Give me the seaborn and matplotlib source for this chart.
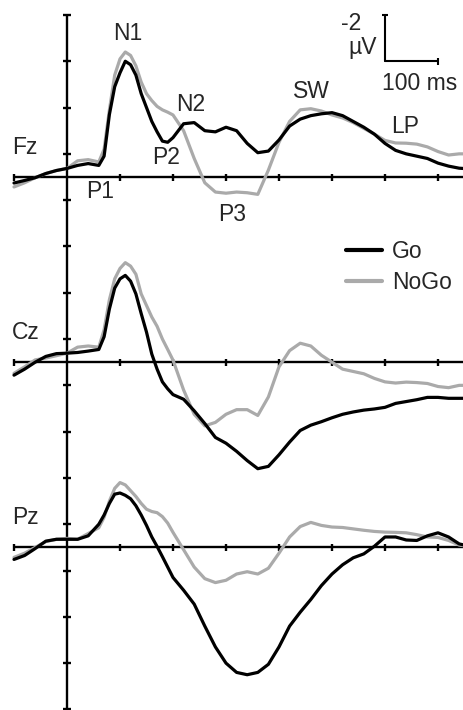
import numpy as np
import pandas as pd
import matplotlib
matplotlib.use("Agg")
import matplotlib.pyplot as plt
import seaborn as sns
from matplotlib.lines import Line2D

# ---------------- data (µV, negative plotted up) ----------------
times = [-100, -80, -60, -40, -20, 0, 20, 40, 60,
         70, 80, 90, 100, 110, 120, 130, 140, 150, 160, 170, 180, 190, 200,
         220, 240, 260, 280, 300, 320, 340, 360, 380, 400, 420, 440, 460, 480,
         500, 520, 540, 560, 580, 600, 620, 640, 660, 680, 700, 720, 740, 760]

fz_go = [0.26, 0.15, 0.03, -0.15, -0.28, -0.37, -0.5, -0.58, -0.5,
         -0.9, -2.7, -3.9, -4.5, -5.0, -4.85, -4.4, -3.6, -3.0, -2.4, -1.95, -1.55, -1.5, -1.7,
         -2.3, -2.35, -2.0, -1.95, -2.15, -2.0, -1.45, -1.05, -1.12, -1.6, -2.2, -2.5, -2.65, -2.73,
         -2.78, -2.65, -2.4, -2.15, -1.85, -1.45, -1.15, -1.0, -0.9, -0.8, -0.6, -0.47, -0.38, -0.35]
fz_nogo = [0.43, 0.25, 0.03, -0.15, -0.28, -0.37, -0.7, -0.75, -0.65,
           -1.2, -2.9, -4.4, -5.1, -5.4, -5.25, -4.8, -4.1, -3.6, -3.3, -3.05, -2.9, -2.8, -2.68,
           -2.0, -0.8, 0.25, 0.65, 0.7, 0.65, 0.68, 0.75, -0.3, -1.5, -2.4, -2.9, -2.95, -2.85,
           -2.68, -2.55, -2.35, -2.1, -1.85, -1.58, -1.47, -1.46, -1.42, -1.3, -1.1, -0.95, -1.0, -1.0]
cz_go = [0.56, 0.3, 0.0, -0.25, -0.37, -0.39, -0.42, -0.48, -0.55,
         -1.1, -2.3, -3.2, -3.6, -3.75, -3.5, -2.95, -2.1, -1.3, -0.35, 0.3, 0.85, 1.15, 1.4,
         1.6, 2.1, 2.65, 3.25, 3.5, 3.85, 4.25, 4.6, 4.5, 4.0, 3.45, 2.95, 2.72, 2.57,
         2.4, 2.25, 2.15, 2.07, 2.02, 1.95, 1.78, 1.7, 1.62, 1.52, 1.52, 1.56, 1.56, 1.56]
cz_nogo = [0.48, 0.2, -0.1, -0.18, -0.28, -0.39, -0.65, -0.7, -0.65,
           -1.4, -2.7, -3.6, -4.05, -4.3, -4.15, -3.8, -2.95, -2.45, -1.95, -1.55, -1.0, -0.55, -0.09,
           1.2, 2.25, 2.75, 2.6, 2.25, 2.05, 2.05, 2.3, 1.5, 0.2, -0.5, -0.82, -0.7, -0.3,
           0.0, 0.3, 0.4, 0.5, 0.7, 0.85, 0.9, 0.86, 0.88, 0.92, 1.05, 1.1, 1.0, 1.0]
pz_go = [0.52, 0.35, 0.05, -0.27, -0.35, -0.35, -0.35, -0.5, -1.0,
         -1.4, -1.9, -2.3, -2.35, -2.25, -2.1, -1.8, -1.4, -0.95, -0.45, -0.04, 0.4, 0.85, 1.3,
         1.85, 2.45, 3.4, 4.3, 5.0, 5.4, 5.5, 5.4, 5.05, 4.3, 3.4, 2.8, 2.25, 1.65,
         1.15, 0.75, 0.45, 0.28, -0.05, -0.45, -0.45, -0.32, -0.3, -0.5, -0.63, -0.45, -0.15, -0.05]
pz_nogo = [0.43, 0.25, 0.0, -0.25, -0.35, -0.39, -0.35, -0.6, -0.85,
           -1.3, -2.0, -2.55, -2.8, -2.7, -2.45, -2.2, -1.9, -1.65, -1.55, -1.5, -1.33, -1.05, -0.65,
           0.1, 0.85, 1.35, 1.52, 1.42, 1.15, 1.05, 1.15, 0.9, 0.25, -0.45, -0.9, -1.08, -0.95,
           -0.88, -0.86, -0.8, -0.74, -0.69, -0.66, -0.65, -0.63, -0.55, -0.45, -0.43, -0.3, -0.1, -0.04]

channels = ["Fz", "Cz", "Pz"]
conditions = ["Go", "NoGo"]
x_ticks_ms = [-100, 100, 200, 300, 400, 500, 600, 700]
component_labels = ["N1", "P1", "P2", "N2", "P3", "SW", "LP"]

# ---------------- layout constants ----------------
W, H = 463, 710
X0_PX, PX_PER_MS = 67, 0.53
Y0_PX, PX_PER_UV = 177, 23.15
OFFSET_STEP = 8.0  # µV between channel baselines
offsets = {ch: i * OFFSET_STEP for i, ch in enumerate(channels)}
colors = {"Go": "black", "NoGo": "#aaaaaa"}

series = {("Fz", "Go"): fz_go, ("Fz", "NoGo"): fz_nogo,
          ("Cz", "Go"): cz_go, ("Cz", "NoGo"): cz_nogo,
          ("Pz", "Go"): pz_go, ("Pz", "NoGo"): pz_nogo}
rows = []
for (ch, cond), vals in series.items():
    for t, v in zip(times, vals):
        rows.append({"time": t, "uv": v, "channel": ch, "condition": cond,
                     "y": v + offsets[ch]})
df = pd.DataFrame(rows)

sns.set_theme(style="white")
plt.rcParams['font.family'] = ['Liberation Sans', 'DejaVu Sans']
FS = 16.5

fig = plt.figure(figsize=(W / 100, H / 100), dpi=100)
ax = fig.add_axes([0, 0, 1, 1])
xmin, xmax = -X0_PX / PX_PER_MS, (W - X0_PX) / PX_PER_MS
ytop, ybot = -Y0_PX / PX_PER_UV, (H - Y0_PX) / PX_PER_UV

# axes
axis_lw = 1.7
tick_h = 3.5 / PX_PER_UV
tick_w = 4.0 / PX_PER_MS
ax.vlines(0, -7, ybot, color="black", lw=axis_lw, zorder=3)
for yt in np.arange(-7, ybot, 2):
    ax.hlines(yt, -tick_w, tick_w, color="black", lw=axis_lw, zorder=3)
for ch in channels:
    off = offsets[ch]
    ax.hlines(off, -100, xmax + 10, color="black", lw=axis_lw, zorder=3)
    for t in x_ticks_ms:
        ax.vlines(t, off - tick_h, off + tick_h, color="black", lw=axis_lw, zorder=3)
    ax.text(-104, off - 1.28, ch, ha="left", va="center", fontsize=FS)

# waveforms
for ch in channels:
    sub = df[df.channel == ch]
    sns.lineplot(data=sub, x="time", y="y", hue="condition", hue_order=["NoGo", "Go"],
                 palette=colors, estimator=None, sort=False, lw=2.3, legend=False,
                 ax=ax, zorder=4, solid_joinstyle="round", solid_capstyle="round")
ax.set_xlim(xmin, xmax)
ax.set_ylim(ybot, ytop)
ax.set_axis_off()

# component labels
label_pos = {"N1": (115, -6.22), "P1": (62, 0.62), "P2": (186, -0.86), "N2": (234, -3.15),
             "P3": (311, 1.6), "SW": (461, -3.7), "LP": (638, -2.2)}
for lab in component_labels:
    x, y = label_pos[lab]
    ax.text(x, y, lab, ha="center", va="center", fontsize=FS)

# scale bar
sb_t, sb_v = 600, -5
ax.plot([sb_t, sb_t], [sb_v - 2, sb_v], color="black", lw=1.5)
ax.plot([sb_t, sb_t + 100], [sb_v, sb_v], color="black", lw=1.5)
ax.hlines(sb_v - 2, sb_t - 3 / PX_PER_MS, sb_t + 3 / PX_PER_MS, color="black", lw=1.5)
ax.vlines(sb_t + 100, sb_v - tick_h, sb_v + tick_h, color="black", lw=1.5)
ax.text(sb_t - 45, sb_v - 1.65, "-2", ha="right", va="center", fontsize=FS)
ax.text(sb_t - 15, sb_v - 0.6, "µV", ha="right", va="center", fontsize=FS)
ax.text(sb_t + 66, sb_v + 0.95, "100 ms", ha="center", va="center", fontsize=FS)

# legend
handles = [Line2D([], [], color=colors[c], lw=3) for c in conditions]
ax.legend(handles, conditions, loc="upper left",
          bbox_to_anchor=(346 / W, 1 - 240 / H), bbox_transform=fig.transFigure,
          frameon=False, fontsize=FS, handlelength=1.55, handletextpad=0.45,
          labelspacing=0.35, borderpad=0, borderaxespad=0)

fig.savefig("out.png", dpi=100)
